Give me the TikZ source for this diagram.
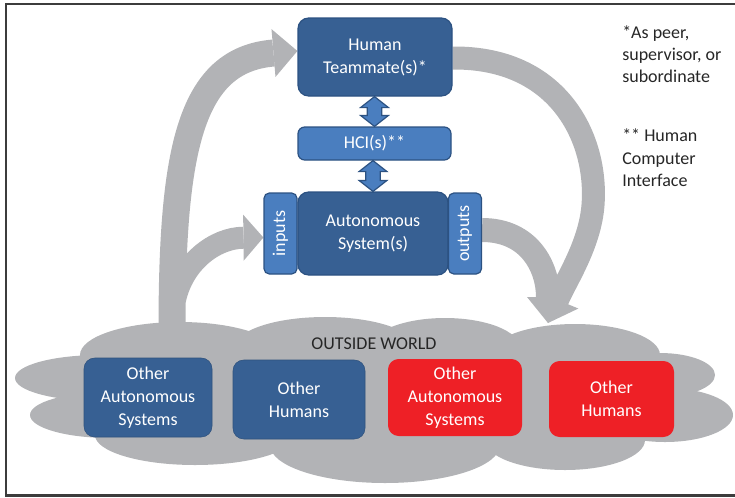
\documentclass[tikz,border=0pt]{standalone}
\usepackage{fontspec}
\setmainfont{Carlito}
\usetikzlibrary{arrows.meta,calc,backgrounds}
\definecolor{boxdark}{HTML}{376093}
\definecolor{boxmid}{HTML}{4A7EBF}
\definecolor{boxedge}{HTML}{2C5282}
\definecolor{alertred}{HTML}{EE2026}
\definecolor{flowgray}{HTML}{B2B3B6}
\definecolor{ink}{HTML}{262626}
\definecolor{framegray}{HTML}{3C3C3C}

\begin{document}
\begin{tikzpicture}[x=0.75pt,y=-0.75pt,
  txt/.style={font=\fontsize{13.5}{17.25}\selectfont, align=center},
  boxbase/.style={txt, text=white, inner sep=0pt},
  darkbox/.style={boxbase, fill=boxdark, draw=boxedge, line width=0.9pt, rounded corners=8pt},
  midbox/.style={boxbase, fill=boxmid, draw=boxedge, line width=0.9pt, rounded corners=5pt},
  sidebox/.style={midbox, rounded corners=4pt, rotate=90, minimum width=60.75pt, minimum height=24.75pt},
  bluebox/.style={boxbase, fill=boxdark, draw=boxdark!85!black, line width=0.4pt, rounded corners=8pt},
  redbox/.style={boxbase, fill=alertred, rounded corners=8pt},
  flow/.style={draw=flowgray, line cap=butt},
  dblarrow/.style={fill=boxmid, draw=boxedge, line width=0.9pt, line join=miter},
  note/.style={font=\fontsize{13.5}{16.5}\selectfont, align=left, text=ink, inner sep=0pt, anchor=west},
]
\useasboundingbox (0,0) rectangle (735,497);

% outside world cloud, built from overlapping lobes
\fill[flowgray] (100,345) rectangle (640,440);
\foreach \cx/\cy/\rx/\ry in {100/378/85/23, 110/415/80/23, 180/355/100/33,
    325/347/90/30, 445/348/75/30, 575/355/85/31, 660/375/55/22,
    665/415/68/27, 565/440/80/30, 385/445/115/38, 195/435/100/30}
  \fill[flowgray] (\cx,\cy) ellipse [x radius=\rx, y radius=\ry];

\node[txt, text=ink] (world) at (374,343.5) {OUTSIDE WORLD};
\coordinate (worldL) at (172,330);
\coordinate (worldR) at (548,323);

% central column
\node[darkbox, minimum width=115.5pt, minimum height=58.5pt] (teammate) at (375,57) {Human\\Teammate(s)*};
\node[midbox, minimum width=114.75pt, minimum height=24.75pt] (hci) at (374.5,143.5) {HCI(s)**};
\node[darkbox, minimum width=112.5pt, minimum height=62.25pt] (auto) at (373,233.5) {Autonomous\\System(s)};
% side tabs are turned a quarter: their north is on the left, south on the right
\node[sidebox] (inputs) at (280.5,233.5) {inputs};
\node[sidebox] (outputs) at (465,233.5) {outputs};

% agents in the outside world
\node[bluebox, minimum width=96pt, minimum height=59.25pt] (oas1) at (148,397.5) {Other\\Autonomous\\Systems};
\node[bluebox, minimum width=99pt, minimum height=59.25pt] (oh1) at (299,399.5) {Other\\Humans};
\node[redbox, minimum width=100.5pt, minimum height=57.75pt] (oas2) at (455,397.5) {Other\\Autonomous\\Systems};
\node[redbox, minimum width=93.75pt, minimum height=57pt] (oh2) at (611.5,399) {Other\\Humans};

% footnotes
\node[note] (fn1) at (622,54) {*As peer,\\supervisor, or\\subordinate};
\node[note, font=\fontsize{13.5}{17}\selectfont] (fn2) at (622,158) {** Human\\Computer\\Interface};

% two-way links through the HCI
\draw[dblarrow] let \p1=(teammate.south), \p2=(hci.north) in
  (\x2,\y1) -- ++(10.5pt,-8.25pt) -- ++(-5pt,0pt) -- (\x2+5.5pt,\y2+8.25pt) -- ++(5pt,0pt)
  -- (\x2,\y2) -- ++(-10.5pt,8.25pt) -- ++(5pt,0pt) -- (\x2-5.5pt,\y1-8.25pt) -- ++(-5pt,0pt) -- cycle;
\draw[dblarrow] let \p1=(hci.south), \p2=(auto.north) in
  (\x2,\y1) -- ++(10.5pt,-8.25pt) -- ++(-5pt,0pt) -- (\x2+5.5pt,\y2+8.25pt) -- ++(5pt,0pt)
  -- (\x2,\y2) -- ++(-10.5pt,8.25pt) -- ++(5pt,0pt) -- (\x2-5.5pt,\y1-8.25pt) -- ++(-5pt,0pt) -- cycle;

% broad gray flows
\begin{scope}[on background layer]
  \draw[flow, line width=20.25pt, -{Triangle[width=36pt,length=18pt,line width=0pt]}]
    (worldL) .. controls (172,150) and (190,60) .. ($(teammate.west)+(0,-6)$);
  \draw[flow, line width=16.5pt, -{Triangle[width=34.5pt,length=15pt,line width=0pt]}]
    (175,300) .. controls (183,262) and (215,238) .. ($(inputs.north)+(0,4)$);
  \draw[flow, line width=17.25pt, -{Triangle[width=33.75pt,length=18.75pt,line width=0pt]}]
    ($(teammate.east)+(0,1)$) .. controls (560,57) and (598,140) .. (593,205)
    .. controls (590,245) and (565,282) .. (worldR);
  \draw[flow, line width=18pt, -{Triangle[width=31.5pt,length=19.5pt,line width=0pt]}]
    ($(outputs.south)+(0,-3.5)$) .. controls (530,230) and (548,268) .. (worldR);
\end{scope}

% frame
\draw[framegray, line width=1.6pt] (735,4) -- (6,4) -- (6,495.5) -- (735,495.5);
\end{tikzpicture}
\end{document}
